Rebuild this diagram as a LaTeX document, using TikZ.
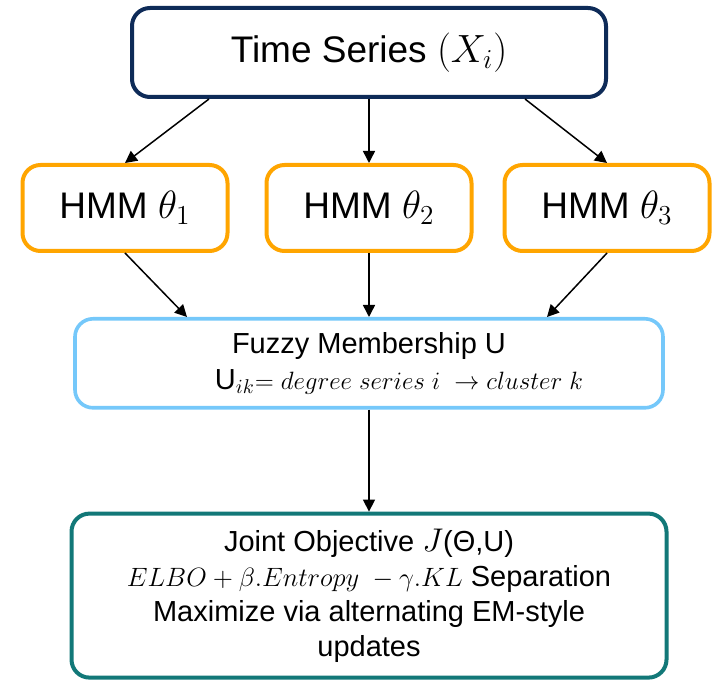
\documentclass[tikz,border=0pt]{standalone}
\usepackage{fontspec}
\setmainfont{Liberation Sans}
\usetikzlibrary{arrows.meta,positioning}
\definecolor{navy}{HTML}{0E2B58}
\definecolor{hmmorange}{HTML}{FFA500}
\definecolor{skyblue}{HTML}{75C8FA}
\definecolor{tealbox}{HTML}{127878}
% math scaled to sit with the sans text
\newcommand{\mth}[2][1.14]{\scalebox{#1}{$#2$}}
\tikzset{
  blk/.style={draw,rectangle,rounded corners=9pt,align=center,fill=white},
  srcblk/.style={blk,draw=navy,line width=2pt,minimum width=237pt,minimum height=44.5pt,font=\fontsize{18.5}{22}\selectfont},
  hmmblk/.style={blk,draw=hmmorange,line width=2pt,minimum width=102.5pt,minimum height=43pt,font=\fontsize{18.5}{22}\selectfont},
  memblk/.style={blk,draw=skyblue,line width=1.8pt,minimum width=294pt,minimum height=44.5pt,font=\fontsize{14.5}{18}\selectfont},
  objblk/.style={blk,draw=tealbox,line width=2pt,minimum width=297.5pt,minimum height=82pt,font=\fontsize{14.5}{17.5}\selectfont},
  arr/.style={-{Triangle[length=6pt,width=6pt]},line width=0.75pt}
}

\begin{document}
\begin{tikzpicture}[x=0.5pt,y=-0.5pt]
  \useasboundingbox (0,0) rectangle (712,683);
  \node[srcblk] (ts) at (369,52.5) {Time Series \mth{(X_i)}};
  \node[hmmblk, below=32pt of ts] (hmm2) {HMM \mth{\theta_2}};
  \node[hmmblk, left=17.5pt of hmm2] (hmm1) {HMM \mth{\theta_1}};
  \node[hmmblk, right=14.5pt of hmm2] (hmm3) {HMM \mth{\theta_3}};
  \node[memblk, below=32pt of hmm2] (fuzzy) {Fuzzy Membership U\\
    \hspace*{30pt}U$_{ik}$\mth[0.87]{=degree\ series\ i\ \rightarrow cluster\ k}};
  \node[objblk, below=51pt of fuzzy] (joint) {Joint Objective \mth{J}(Θ,U)\\
    \mth[0.92]{ELBO+\beta.Entropy\ -\gamma.KL} Separation\\
    Maximize via alternating EM-style\\updates};

  \draw[arr] ([xshift=-80pt]ts.south) -- (hmm1.north);
  \draw[arr] (ts.south) -- (hmm2.north);
  \draw[arr] ([xshift=78pt]ts.south) -- (hmm3.north);
  \draw[arr] (hmm1.south) -- ([xshift=-91pt]fuzzy.north);
  \draw[arr] (hmm2.south) -- (fuzzy.north);
  \draw[arr] (hmm3.south) -- ([xshift=89pt]fuzzy.north);
  \draw[arr] (fuzzy.south) -- (joint.north);
\end{tikzpicture}
\end{document}
